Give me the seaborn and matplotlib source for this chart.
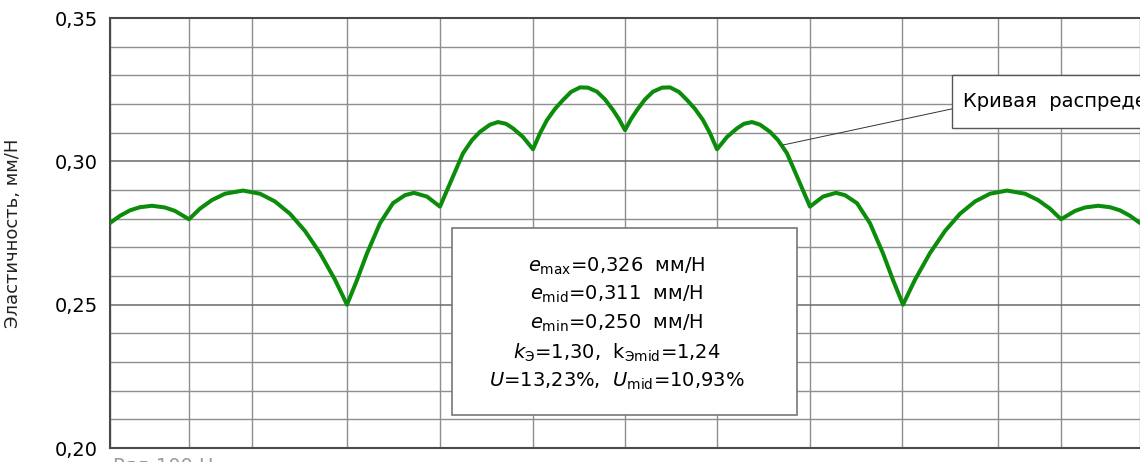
import numpy as np
import pandas as pd
import seaborn as sns
import matplotlib.pyplot as plt
from matplotlib.patches import Rectangle

# curve: position along the row (arbitrary units) and elasticity, mm/N
pos = [0, 10, 20, 30, 42, 55, 65, 79,
       90, 102, 115, 133, 150, 165, 180, 195, 210, 225, 237,
       247, 257, 270, 283, 295, 304, 317, 330,
       340, 353, 362, 370, 380, 388, 396, 403, 413, 423,
       430, 437, 445, 453, 461, 470, 478, 487, 495, 503, 509, 515,
       521, 527, 535, 543, 552, 560, 569, 577, 585, 593, 600, 607,
       617, 627, 634, 642, 650, 660, 668, 677, 690, 700,
       713, 726, 735, 747, 760, 773, 783, 793,
       805, 820, 835, 850, 865, 880, 897, 915, 928, 940, 951,
       965, 975, 988, 1000, 1010, 1020, 1030]
elast = [0.2785, 0.2810, 0.2829, 0.2840, 0.2845, 0.2839, 0.2827, 0.2798,
         0.2835, 0.2865, 0.2887, 0.2898, 0.2887, 0.2860, 0.2817, 0.2757, 0.2680, 0.2587, 0.2500,
         0.2586, 0.2679, 0.2784, 0.2854, 0.2882, 0.2890, 0.2877, 0.2842,
         0.2923, 0.3028, 0.3074, 0.3103, 0.3128, 0.3137, 0.3131, 0.3115, 0.3085, 0.3042,
         0.3098, 0.3144, 0.3183, 0.3214, 0.3242, 0.3258, 0.3257, 0.3243, 0.3216, 0.3179, 0.3147, 0.3109,
         0.3147, 0.3179, 0.3216, 0.3243, 0.3257, 0.3258, 0.3242, 0.3214, 0.3183, 0.3144, 0.3098, 0.3042,
         0.3085, 0.3115, 0.3131, 0.3137, 0.3128, 0.3103, 0.3074, 0.3028, 0.2923, 0.2842,
         0.2877, 0.2890, 0.2882, 0.2854, 0.2784, 0.2679, 0.2586, 0.2500,
         0.2587, 0.2680, 0.2757, 0.2817, 0.2860, 0.2887, 0.2898, 0.2887, 0.2865, 0.2835, 0.2798,
         0.2827, 0.2839, 0.2845, 0.2840, 0.2829, 0.2810, 0.2785]

# vertical grid lines (spring positions) and y ticks
grid_x = [0, 79, 142, 237, 330, 423, 515, 607, 700, 792, 888, 951, 1030]
y_major = [0.20, 0.25, 0.30, 0.35]
y_labels = ["0,20", "0,25", "0,30", "0,35"]
y_minor = [0.21, 0.22, 0.23, 0.24, 0.26, 0.27, 0.28, 0.29, 0.31, 0.32, 0.33, 0.34]

stats_lines = [r"$e_{\rm max}$=0,326  мм/Н",
               r"$e_{\rm mid}$=0,311  мм/Н",
               r"$e_{\rm min}$=0,250  мм/Н",
               r"$k_{\rm Э}$=1,30,  k$_{\rm Эmid}$=1,24",
               r"$U$=13,23%,  $U_{\rm mid}$=10,93%"]

sns.set_style("white")
plt.rcParams['font.family'] = ['DejaVu Sans']
plt.rcParams['mathtext.fontset'] = 'dejavusans'
plt.rcParams['text.color'] = 'black'

fig = plt.figure(figsize=(11.4, 4.62), dpi=100)
ax = fig.add_axes([110 / 1140, 14 / 462, 1030 / 1140, 430 / 462])

df = pd.DataFrame({"pos": pos, "e": elast})
sns.lineplot(data=df, x="pos", y="e", ax=ax, color="#0b8c0b", lw=2.9,
             sort=False, estimator=None, zorder=3)

ax.set_xlim(0, 1030)
ax.set_ylim(0.20, 0.35)
ax.set_xticks(grid_x)
ax.set_xticklabels([])
ax.set_yticks(y_major)
ax.set_yticklabels(y_labels, fontsize=14, color="black")
ax.set_yticks(y_minor, minor=True)
ax.tick_params(axis="both", which="both", length=0)
ax.tick_params(axis="y", pad=9)
ax.grid(True, which="major", axis="y", color="#6a6a6a", lw=1.1)
ax.grid(True, which="minor", axis="y", color="#8e8e8e", lw=1.0)
ax.grid(True, which="major", axis="x", color="#8e8e8e", lw=1.0)
ax.set_axisbelow(True)
for side in ["left", "top", "bottom"]:
    ax.spines[side].set_color("#4a4a4a")
    ax.spines[side].set_linewidth(1.5)
ax.spines["right"].set_visible(False)
ax.set_xlabel("")
ax.set_ylabel("Эластичность, мм/Н", fontsize=13, color="#222222")
ax.yaxis.set_label_coords(-0.085, 0.5)

# box with the summary numbers
ax.add_patch(Rectangle((342, 0.2115), 345, 0.0652, facecolor="white",
                       edgecolor="#777777", lw=1.2, zorder=4))
for i, line in enumerate(stats_lines):
    ax.text(507, 0.2635 - i * 0.01005, line, ha="center", va="center",
            fontsize=14, color="black", zorder=5)

# callout for the curve
ax.add_patch(Rectangle((842, 0.3116), 400, 0.0185, facecolor="white",
                       edgecolor="#555555", lw=1.0, zorder=4, clip_on=True))
ax.text(853, 0.3210, "Кривая  распределения", ha="left", va="center",
        fontsize=14, color="black", zorder=5)
ax.plot([673, 842], [0.3057, 0.3183], color="#333333", lw=0.7, zorder=4)

fig.text(113 / 1140, 5 / 462, "Ряд 100 Н", color="#9a9a9a", fontsize=14,
         ha="left", va="top")

plt.savefig("out.png", dpi=100)
